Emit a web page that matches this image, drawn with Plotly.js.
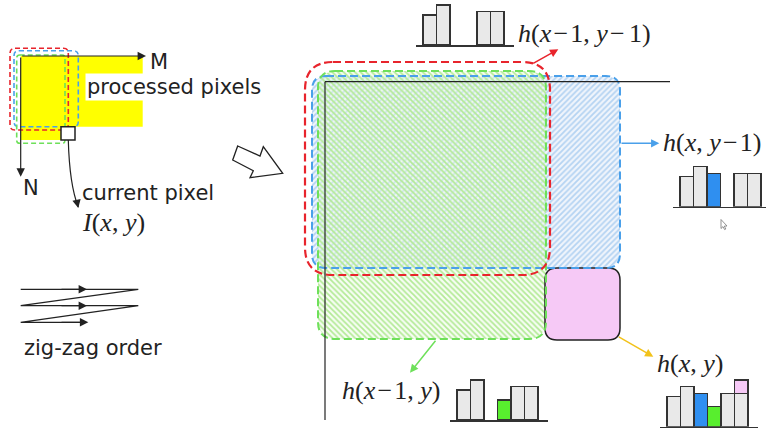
<!DOCTYPE html>
<html>
<head>
<meta charset="utf-8">
<script src="https://cdn.plot.ly/plotly-3.0.1.min.js"></script>
<style>html,body{margin:0;padding:0;background:#fff;}#chart{width:766px;height:431px;}</style>
</head>
<body>
<div id="chart"></div>
<script>
// ---------------- DATA ----------------
const histBins = [1, 2, 3, 4, 5, 6];
const hDiag = [9, 12, null, null, 10, 10];   // h(x-1, y-1)
const hUp = [9, 12, 10, null, 10, 10];       // h(x, y-1)
const hLeft = [9, 12, null, 6, 10, 10];      // h(x-1, y)
const hCur = [9, 12, 10, 6, 10, 10];         // h(x, y)
const hCurPixel = [null, null, null, null, null, 4]; // I(x, y) contribution
const histLabels = ['<i>h</i>(<i>x</i>\u200a−\u200a1, <i>y</i>\u200a−\u200a\u200a1)', '<i>h</i>(<i>x</i>, <i>y</i>\u200a−\u200a1)', '<i>h</i>(<i>x</i>\u200a−\u200a1, <i>y</i>)', '<i>h</i>(<i>x</i>, <i>y</i>)'];
const textLabels = ['M', 'N', 'processed pixels', 'current pixel', '<i>I</i>(<i>x</i>, <i>y</i>)', 'zig-zag order'];

// ---------------- STYLE ----------------
const GRAY = '#e9e9e9', BLUE = '#2f8ff0', GREEN = '#58ee2e', PINK = '#f6c9f6';
const RED_L = '#e8242c', BLUE_L = '#4aa0ea', GREEN_L = '#6ee05a';
const colDiag = [GRAY, GRAY, GRAY, GRAY, GRAY, GRAY];
const colUp = [GRAY, GRAY, BLUE, GRAY, GRAY, GRAY];
const colLeft = [GRAY, GRAY, GRAY, GREEN, GRAY, GRAY];
const colCur = [GRAY, GRAY, BLUE, GREEN, GRAY, GRAY];
const W = 766, H = 431;
const PXU = 13.5, PYU = 10 / 3;

function rrPath(x0, y0, x1, y1, r) {
  return `M${x0 + r},${y0} L${x1 - r},${y0} Q${x1},${y0} ${x1},${y0 + r} L${x1},${y1 - r} Q${x1},${y1} ${x1 - r},${y1} L${x0 + r},${y1} Q${x0},${y1} ${x0},${y1 - r} L${x0},${y0 + r} Q${x0},${y0} ${x0 + r},${y0} Z`;
}
function rrPts(x0, y0, x1, y1, r) {
  const xs = [], ys = [];
  const c = [[x1 - r, y0 + r, -90], [x1 - r, y1 - r, 0], [x0 + r, y1 - r, 90], [x0 + r, y0 + r, 180]];
  c.forEach(([cx, cy, a0]) => {
    for (let a = a0; a <= a0 + 90; a += 10) {
      xs.push(cx + r * Math.cos(a * Math.PI / 180));
      ys.push(cy + r * Math.sin(a * Math.PI / 180));
    }
  });
  xs.push(xs[0]); ys.push(ys[0]);
  return [xs, ys];
}

const BLUE_BOX = [312, 76, 620, 268, 14];
const GREEN_BOX = [318, 71, 546, 339, 17];
const RED_BOX = [305, 62, 550, 275, 28];
const PINK_BOX = [545, 268, 620, 340, 12];

const traces = [];
const bp = rrPts(...BLUE_BOX);
traces.push({x: bp[0], y: bp[1], type: 'scatter', mode: 'none', fill: 'toself', hoverinfo: 'skip',
  fillpattern: {shape: '/', fgcolor: '#b4d3f2', bgcolor: '#f0f5fc', size: 4, solidity: 0.45}, xaxis: 'x', yaxis: 'y'});
const gp = rrPts(...GREEN_BOX);
traces.push({x: gp[0], y: gp[1], type: 'scatter', mode: 'none', fill: 'toself', hoverinfo: 'skip',
  fillpattern: {shape: '\\', fgcolor: '#b3ea96', bgcolor: 'rgba(238,251,230,0.45)', size: 4, solidity: 0.45}, xaxis: 'x', yaxis: 'y'});

// histograms
const hists = [
  {y: hDiag, c: colDiag, left: 416.25, base: 45, ymax: 13.5},
  {y: hUp, c: colUp, left: 673.25, base: 206.7, ymax: 13.5},
  {y: hLeft, c: colLeft, left: 450.25, base: 420, ymax: 13.5},
  {y: hCur, c: colCur, left: 660.25, base: 426.7, ymax: 15},
];
const layout = {
  width: W, height: H, margin: {l: 0, r: 0, t: 0, b: 0},
  paper_bgcolor: '#fff', plot_bgcolor: 'rgba(0,0,0,0)', showlegend: false,
  barmode: 'stack', bargap: 0,
  xaxis: {range: [0, W], visible: false, domain: [0, 1], fixedrange: true},
  yaxis: {range: [H, 0], visible: false, domain: [0, 1], fixedrange: true},
  shapes: [], annotations: []
};
hists.forEach((h, i) => {
  const n = i + 2;
  const xmax = Math.min(7.25, (W - h.left) / PXU);
  const right = h.left + xmax * PXU;
  layout['xaxis' + n] = {domain: [h.left / W, Math.min(1, right / W)], range: [0, xmax], anchor: 'y' + n,
    showline: true, linecolor: '#333', linewidth: 1.5, showticklabels: false, ticks: '', showgrid: false, zeroline: false, fixedrange: true};
  layout['yaxis' + n] = {domain: [1 - h.base / H, 1 - (h.base - h.ymax * PYU) / H], range: [0, h.ymax], anchor: 'x' + n,
    visible: false, fixedrange: true};
  traces.push({type: 'bar', x: histBins, y: h.y, xaxis: 'x' + n, yaxis: 'y' + n, hoverinfo: 'skip',
    marker: {color: h.c, line: {color: '#333', width: 1.5}}});
  if (i === 3) {
    traces.push({type: 'bar', x: histBins, y: hCurPixel, xaxis: 'x' + n, yaxis: 'y' + n, hoverinfo: 'skip',
      marker: {color: PINK, line: {color: '#333', width: 1.5}}});
  }
});

const S = layout.shapes;
function sh(o) { S.push(Object.assign({xref: 'x', yref: 'y', layer: 'above'}, o)); }
// left small diagram
sh({type: 'rect', x0: 20.7, y0: 56, x1: 142.7, y1: 126.7, fillcolor: '#ffff00', line: {width: 0}});
sh({type: 'rect', x0: 20.7, y0: 126, x1: 61, y1: 140, fillcolor: '#ffff00', line: {width: 0}});
sh({type: 'path', path: rrPath(10, 48.3, 68.3, 130, 5), line: {color: RED_L, width: 1.6, dash: '5px,3px'}});
sh({type: 'path', path: rrPath(14, 50.7, 78.3, 126.7, 5), line: {color: BLUE_L, width: 1.6, dash: '5px,3px'}});
sh({type: 'path', path: rrPath(16.7, 55, 65, 143.3, 3), line: {color: GREEN_L, width: 1.6, dash: '5px,3px'}});
sh({type: 'rect', x0: 61, y0: 126.7, x1: 75, y1: 140, fillcolor: '#fff', line: {color: '#222', width: 1.5}});
sh({type: 'path', path: 'M68.3,140 Q69.5,185 78.3,207', line: {color: '#222', width: 1.2}});
sh({type: 'path', path: 'M20.7,289.3 L138.3,289.3 L20.7,305.7 L138.3,305.7 L20.7,322.3 L86,322.3', line: {color: '#222', width: 1.2}});
sh({type: 'path', path: 'M237.7,146 L260,156 L263.3,146.7 L282.7,173.3 L250,177.7 L253.3,170.7 L232.7,160 Z', fillcolor: '#fff', line: {color: '#222', width: 1.3}});
// right diagram
sh({type: 'path', path: rrPath(...PINK_BOX), fillcolor: PINK, line: {color: '#222', width: 1.5}});
sh({type: 'path', path: rrPath(...BLUE_BOX), line: {color: BLUE_L, width: 2, dash: '8px,4px'}});
sh({type: 'path', path: rrPath(...GREEN_BOX), line: {color: GREEN_L, width: 2, dash: '8px,4px'}});
sh({type: 'path', path: rrPath(...RED_BOX), line: {color: RED_L, width: 2.2, dash: '8px,4px'}});
sh({type: 'line', x0: 325, y0: 81.7, x1: 670, y1: 81.7, line: {color: '#222', width: 1.2}});
sh({type: 'line', x0: 325, y0: 81.7, x1: 325, y1: 420, line: {color: '#222', width: 1.2}});
// cursor
sh({type: 'path', path: 'M721,219.5 L721,228.5 L723,226.6 L724.6,229.6 L725.8,229 L724.3,226.1 L727,226 Z', fillcolor: '#fff', line: {color: '#777', width: 0.8}});

const A = layout.annotations;
function arrow(tx, ty, hx, hy, color, w, size) {
  A.push({xref: 'x', yref: 'y', axref: 'x', ayref: 'y', x: hx, y: hy, ax: tx, ay: ty, text: '', showarrow: true,
    arrowhead: 2, arrowsize: size || 1, arrowwidth: w || 1.5, arrowcolor: color, standoff: 0, startstandoff: 0});
}
arrow(20.7, 56, 146, 56, '#222', 1.2, 1.4);
arrow(20.7, 56, 20.7, 176.7, '#222', 1.2, 1.4);
arrow(77, 202, 78.3, 208, '#222', 1.2, 1.4);
arrow(60, 289.3, 87, 289.3, '#222', 1.2, 1.4);
arrow(60, 305.7, 87, 305.7, '#222', 1.2, 1.4);
arrow(60, 322.3, 88.3, 322.3, '#222', 1.2, 1.4);
arrow(531.7, 64.3, 558.3, 49.3, RED_L, 1.5, 1.1);
arrow(620, 143.3, 659.3, 143.3, BLUE_L, 1.5, 1.1);
arrow(436.7, 339.3, 410, 372.7, GREEN_L, 1.5, 1.1);
arrow(617.3, 336, 653.3, 356.7, '#f2c21a', 1.5, 1.1);

const SANS = {family: 'DejaVu Sans', size: 21, color: '#222'};
const SERIF = {family: 'Liberation Serif', size: 26, color: '#222'};
function txt(s, x, y, font, extra) {
  A.push(Object.assign({xref: 'x', yref: 'y', x: x, y: y, text: s, showarrow: false, xanchor: 'left', yanchor: 'middle', font: font}, extra || {}));
}
txt(textLabels[0], 148, 62, SANS);
txt(textLabels[1], 21, 188, SANS);
txt(textLabels[2], 85, 87, SANS, {bgcolor: '#fff'});
txt(textLabels[3], 80, 193, SANS);
txt(textLabels[4], 80, 222, SERIF);
txt(textLabels[5], 22, 348.3, SANS);
txt(histLabels[0], 516, 33.3, SERIF);
txt(histLabels[1], 661, 142.7, SERIF);
txt(histLabels[2], 340, 390, SERIF);
txt(histLabels[3], 655, 363.3, SERIF);

Plotly.newPlot('chart', traces, layout, {displayModeBar: false, staticPlot: true});
</script>
</body>
</html>
